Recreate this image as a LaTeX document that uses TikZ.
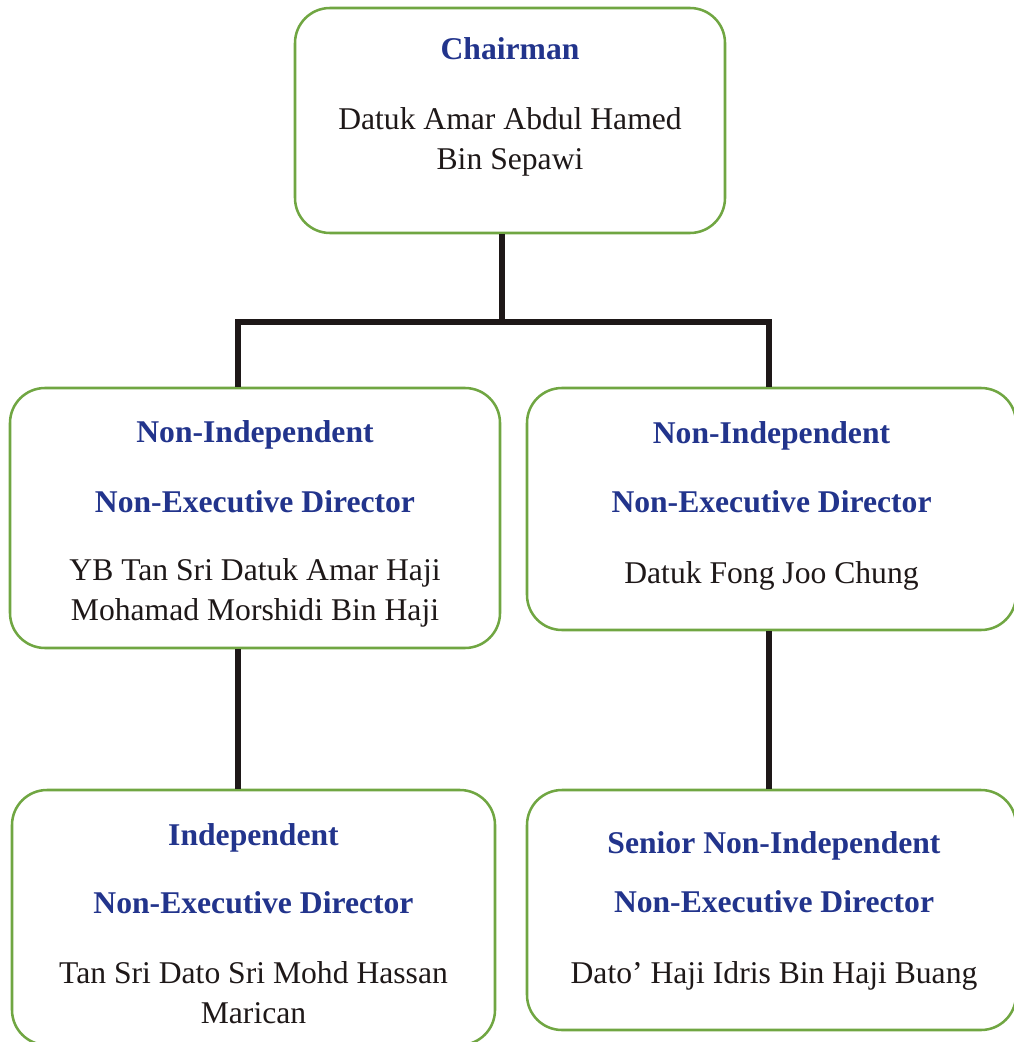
\documentclass[tikz,border=0pt]{standalone}
\usepackage{fontspec}
\setmainfont{Liberation Serif}
\definecolor{boxgreen}{RGB}{112,166,66}
\definecolor{titleblue}{RGB}{34,52,140}
\definecolor{linkblack}{RGB}{30,24,24}
\begin{document}
\begin{tikzpicture}[
  font=\fontsize{22.5}{27}\selectfont,
  box/.style={draw=boxgreen,line width=1.8pt,rounded corners=0.875cm,fill=white,inner sep=0pt},
  role/.style={anchor=base,text=titleblue,font=\fontsize{22.5}{27}\selectfont\bfseries},
  person/.style={anchor=base,text=linkblack},
  link/.style={draw=linkblack,line width=4.3pt}
]

\useasboundingbox (0,0) rectangle (25.325,-26.05);

%------------------------------------------------
% Connectors
%------------------------------------------------
\coordinate (j0) at (12.55,-8.05);
\coordinate (jl) at (5.95,-8.05);
\coordinate (jr) at (19.225,-8.05);

% Boxes
\node[box,minimum width=10.75cm,minimum height=5.625cm] (chair) at (12.75,-3.0125) {};
\node[box,minimum width=12.25cm,minimum height=6.5cm] (nidl) at (6.375,-12.95) {};
\node[box,minimum width=12.225cm,minimum height=6.05cm] (nidr) at (19.2875,-12.725) {};
\node[box,minimum width=12.075cm,minimum height=6.375cm] (ind) at (6.3375,-22.9375) {};
\node[box,minimum width=12.225cm,minimum height=6cm] (snid) at (19.2875,-22.75) {};

\draw[link] (j0 |- chair.south) -- (j0);
\draw[link] (jl |- nidl.north) -- (jl) -- (jr) -- (jr |- nidr.north);
\draw[link] (jl |- nidl.south) -- (jl |- ind.north);
\draw[link] (jr |- nidr.south) -- (jr |- snid.north);

%------------------------------------------------
% Chairman
%------------------------------------------------
\node[role] (chairT) at (12.75,-1.5) {Chairman};
\node[person] (chairN1) at (12.75,-3.25) {Datuk Amar Abdul Hamed};
\node[person] (chairN2) at (12.75,-4.25) {Bin Sepawi};

%------------------------------------------------
% Non-Independent (left)
%------------------------------------------------
\node[role] (nidlT1) at (6.375,-11.05) {Non-Independent};
\node[role] (nidlT2) at (6.375,-12.8) {Non-Executive Director};
\node[person] (nidlN1) at (6.375,-14.5) {YB Tan Sri Datuk Amar Haji};
\node[person] (nidlN2) at (6.375,-15.5) {Mohamad Morshidi Bin Haji};

%------------------------------------------------
% Non-Independent (right)
%------------------------------------------------
\node[role] (nidrT1) at (19.2875,-11.075) {Non-Independent};
\node[role] (nidrT2) at (19.2875,-12.8) {Non-Executive Director};
\node[person] (nidrN1) at (19.2875,-14.575) {Datuk Fong Joo Chung};

%------------------------------------------------
% Independent
%------------------------------------------------
\node[role] (indT1) at (6.3375,-21.125) {Independent};
\node[role] (indT2) at (6.3375,-22.825) {Non-Executive Director};
\node[person] (indN1) at (6.3375,-24.575) {Tan Sri Dato Sri Mohd Hassan};
\node[person] (indN2) at (6.3375,-25.575) {Marican};

%------------------------------------------------
% Senior Non-Independent
%------------------------------------------------
\node[role] (snidT1) at (19.35,-21.325) {Senior Non-Independent};
\node[role] (snidT2) at (19.35,-22.8) {Non-Executive Director};
\node[person] (snidN1) at (19.35,-24.575) {Dato’ Haji Idris Bin Haji Buang};

\end{tikzpicture}
\end{document}
